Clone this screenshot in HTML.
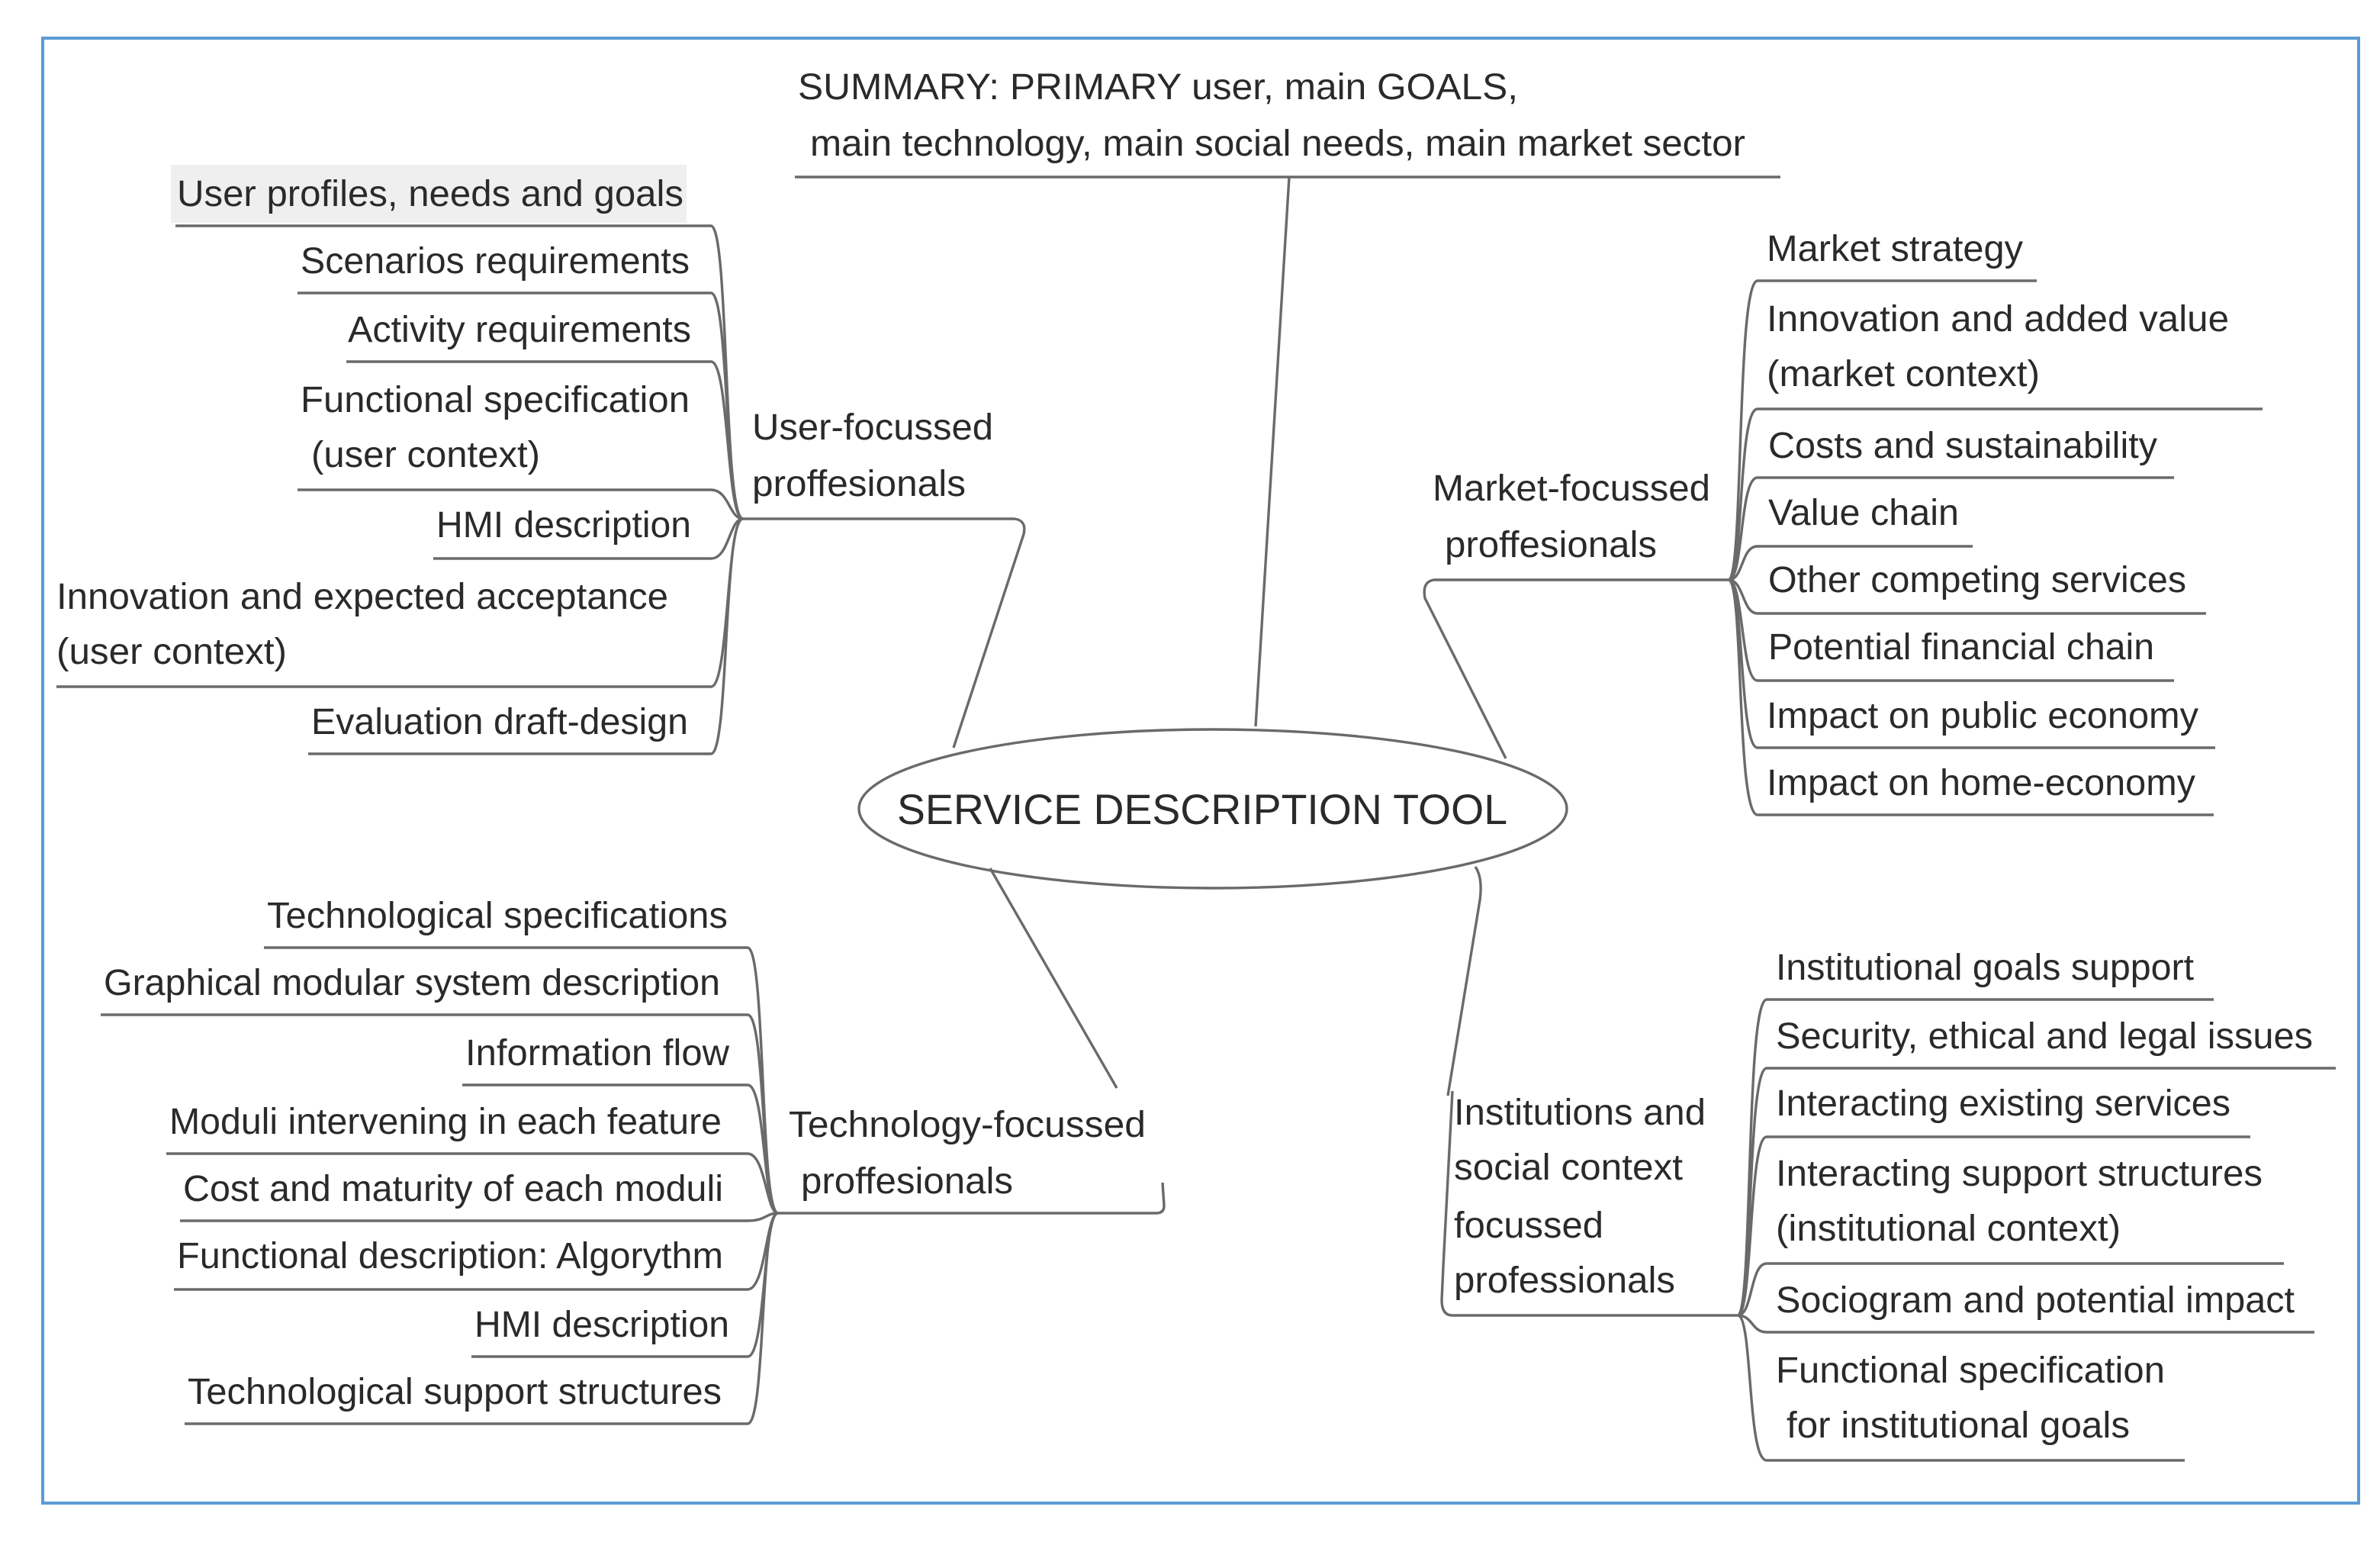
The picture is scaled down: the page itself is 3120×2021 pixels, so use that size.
<!DOCTYPE html>
<html><head><meta charset="utf-8"><style>
html,body{margin:0;padding:0;background:#fff}
svg{display:block}
text{font-family:"Liberation Sans",Arial,sans-serif;fill:#2a2a2a;font-size:24px}
.l{fill:none;stroke:#6a6a6a;stroke-width:1.7}
</style></head><body>
<svg width="3120" height="2021" viewBox="0 0 1560 1010.5" xmlns="http://www.w3.org/2000/svg">
<rect x="28" y="25" width="1518" height="960" fill="none" stroke="#5b9bd5" stroke-width="2"/>

<!-- center -->
<ellipse cx="795" cy="530" rx="232" ry="52" class="l"/>
<text x="588" y="540" textLength="400" lengthAdjust="spacingAndGlyphs" style="font-size:28px">SERVICE DESCRIPTION TOOL</text>

<!-- summary -->
<text x="523" y="65" textLength="472" lengthAdjust="spacingAndGlyphs">SUMMARY: PRIMARY user, main GOALS,</text>
<text x="531" y="102" textLength="613" lengthAdjust="spacingAndGlyphs">main technology, main social needs, main market sector</text>
<path class="l" d="M521,116 L1167,116 M845,116 L823,476"/>

<!-- user-focussed -->
<text x="493" y="288" textLength="158" lengthAdjust="spacingAndGlyphs">User-focussed</text>
<text x="493" y="325" textLength="140" lengthAdjust="spacingAndGlyphs">proffesionals</text>
<path class="l" d="M487,340 L665,340 Q673,341 671,350 L625,490"/>
<rect x="112" y="108" width="338" height="38" fill="#efefef"/>
<text x="116" y="135" textLength="332" lengthAdjust="spacingAndGlyphs">User profiles, needs and goals</text>
<text x="197" y="179" textLength="255" lengthAdjust="spacingAndGlyphs">Scenarios requirements</text>
<text x="228" y="224" textLength="225" lengthAdjust="spacingAndGlyphs">Activity requirements</text>
<text x="197" y="270" textLength="255" lengthAdjust="spacingAndGlyphs">Functional specification</text>
<text x="204" y="306" textLength="150" lengthAdjust="spacingAndGlyphs">(user context)</text>
<text x="286" y="352" textLength="167" lengthAdjust="spacingAndGlyphs">HMI description</text>
<text x="37" y="399" textLength="401" lengthAdjust="spacingAndGlyphs">Innovation and expected acceptance</text>
<text x="37" y="435" textLength="151" lengthAdjust="spacingAndGlyphs">(user context)</text>
<text x="204" y="481" textLength="247" lengthAdjust="spacingAndGlyphs">Evaluation draft-design</text>
<path class="l" d="M115,148 L466,148 C478,148 474,340 487,340
M195,192 L466,192 C478,192 475,340 487,340
M227,237 L466,237 C478,237 476,340 487,340
M195,321 L466,321 C478,321 478,340 487,340
M284,366 L466,366 C478,366 478,340 487,340
M37,450 L466,450 C478,450 476,340 487,340
M202,494 L466,494 C478,494 474,340 487,340"/>

<!-- technology -->
<text x="517" y="745" textLength="234" lengthAdjust="spacingAndGlyphs">Technology-focussed</text>
<text x="525" y="782" textLength="139" lengthAdjust="spacingAndGlyphs">proffesionals</text>
<path class="l" d="M649,569 L732,713 M510,795 L758,795 Q763,795 763,790 L762,775"/>
<text x="175" y="608" textLength="302" lengthAdjust="spacingAndGlyphs">Technological specifications</text>
<text x="68" y="652" textLength="404" lengthAdjust="spacingAndGlyphs">Graphical modular system description</text>
<text x="305" y="698" textLength="173" lengthAdjust="spacingAndGlyphs">Information flow</text>
<text x="111" y="743" textLength="362" lengthAdjust="spacingAndGlyphs">Moduli intervening in each feature</text>
<text x="120" y="787" textLength="354" lengthAdjust="spacingAndGlyphs">Cost and maturity of each moduli</text>
<text x="116" y="831" textLength="358" lengthAdjust="spacingAndGlyphs">Functional description: Algorythm</text>
<text x="311" y="876" textLength="167" lengthAdjust="spacingAndGlyphs">HMI description</text>
<text x="123" y="920" textLength="350" lengthAdjust="spacingAndGlyphs">Technological support structures</text>
<path class="l" d="M173,621 L490,621 C502,621 498,795 510,795
M66,665 L490,665 C502,665 499,795 510,795
M303,711 L490,711 C502,711 500,795 510,795
M109,756 L490,756 C502,756 502,795 510,795
M118,800 L490,800 C502,800 502,795 510,795
M114,845 L490,845 C502,845 502,795 510,795
M309,889 L490,889 C502,889 500,795 510,795
M121,933 L490,933 C502,933 498,795 510,795"/>

<!-- market -->
<text x="939" y="328" textLength="182" lengthAdjust="spacingAndGlyphs">Market-focussed</text>
<text x="947" y="365" textLength="139" lengthAdjust="spacingAndGlyphs">proffesionals</text>
<path class="l" d="M1133,380 L940,380 Q932,381 934,392 L987,497"/>
<text x="1158" y="171" textLength="168" lengthAdjust="spacingAndGlyphs">Market strategy</text>
<text x="1158" y="217" textLength="303" lengthAdjust="spacingAndGlyphs">Innovation and added value</text>
<text x="1158" y="253" textLength="179" lengthAdjust="spacingAndGlyphs">(market context)</text>
<text x="1159" y="300" textLength="255" lengthAdjust="spacingAndGlyphs">Costs and sustainability</text>
<text x="1159" y="344" textLength="125" lengthAdjust="spacingAndGlyphs">Value chain</text>
<text x="1159" y="388" textLength="274" lengthAdjust="spacingAndGlyphs">Other competing services</text>
<text x="1159" y="432" textLength="253" lengthAdjust="spacingAndGlyphs">Potential financial chain</text>
<text x="1158" y="477" textLength="283" lengthAdjust="spacingAndGlyphs">Impact on public economy</text>
<text x="1158" y="521" textLength="281" lengthAdjust="spacingAndGlyphs">Impact on home-economy</text>
<path class="l" d="M1133,380 C1143,380 1138,184 1152,184 L1335,184
M1133,380 C1143,380 1139,268 1152,268 L1483,268
M1133,380 C1143,380 1140,313 1152,313 L1425,313
M1133,380 C1143,380 1141,358 1152,358 L1293,358
M1133,380 C1143,380 1142,402 1152,402 L1446,402
M1133,380 C1143,380 1141,446 1152,446 L1425,446
M1133,380 C1143,380 1140,490 1152,490 L1452,490
M1133,380 C1143,380 1138,534 1152,534 L1451,534"/>

<!-- institutions -->
<text x="953" y="737" textLength="165" lengthAdjust="spacingAndGlyphs">Institutions and</text>
<text x="953" y="773" textLength="150" lengthAdjust="spacingAndGlyphs">social context</text>
<text x="953" y="811" textLength="98" lengthAdjust="spacingAndGlyphs">focussed</text>
<text x="953" y="847" textLength="145" lengthAdjust="spacingAndGlyphs">professionals</text>
<path class="l" d="M1139,862 L952,862 Q945,862 945,852 L946,830 L952,715 M967,568 Q972,575 970,590 L949,718"/>
<text x="1164" y="642" textLength="274" lengthAdjust="spacingAndGlyphs">Institutional goals support</text>
<text x="1164" y="687" textLength="352" lengthAdjust="spacingAndGlyphs">Security, ethical and legal issues</text>
<text x="1164" y="731" textLength="298" lengthAdjust="spacingAndGlyphs">Interacting existing services</text>
<text x="1164" y="777" textLength="319" lengthAdjust="spacingAndGlyphs">Interacting support structures</text>
<text x="1164" y="813" textLength="226" lengthAdjust="spacingAndGlyphs">(institutional context)</text>
<text x="1164" y="860" textLength="340" lengthAdjust="spacingAndGlyphs">Sociogram and potential impact</text>
<text x="1164" y="906" textLength="255" lengthAdjust="spacingAndGlyphs">Functional specification</text>
<text x="1171" y="942" textLength="225" lengthAdjust="spacingAndGlyphs">for institutional goals</text>
<path class="l" d="M1139,862 C1149,862 1144,655 1158,655 L1451,655
M1139,862 C1149,862 1145,700 1158,700 L1531,700
M1139,862 C1149,862 1146,745 1158,745 L1475,745
M1139,862 C1149,862 1147,828 1158,828 L1497,828
M1139,862 C1149,862 1148,873 1158,873 L1517,873
M1139,862 C1149,862 1145,957 1158,957 L1432,957"/>
</svg>
</body></html>
